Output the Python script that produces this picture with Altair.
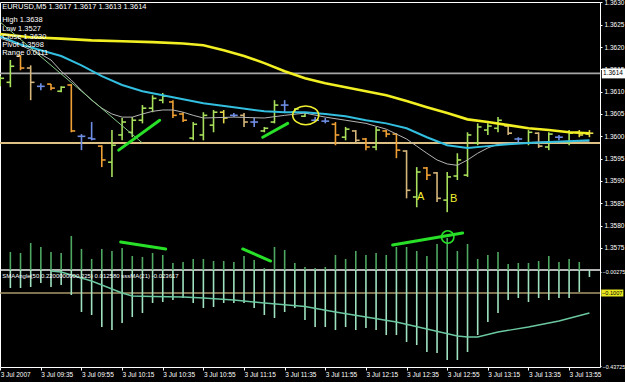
import altair as alt
import pandas as pd

# ---------------- data ----------------
bar_kind = ["g","g","o","t","b","o","g","o","b","b","o","g","g","g","g","g","g","o","o","g",
            "g","g","y","b","t","b","g","g","b","g","g","b","b","o","g","t","o","g","o","o",
            "t","g","o","t","g","g","g","g","g","g","t","b","g","t","g","b","g","y","y"]
bar_high = [1.36135,1.36171,1.36182,1.36159,1.36119,1.36117,1.36112,1.36117,1.36005,1.36032,
            1.35980,1.36014,1.36041,1.36043,1.36070,1.36092,1.36097,1.36081,1.36054,1.36032,
            1.36054,1.36059,1.36059,1.36052,1.36052,1.36041,1.36021,1.36081,1.36081,1.36063,
            1.36054,1.36043,1.36041,1.36032,1.36021,1.36014,1.35996,1.36021,1.36014,1.36007,
            1.35969,1.35931,1.35931,1.35920,1.35920,1.35962,1.36009,1.36029,1.36029,1.36043,
            1.36025,1.35998,1.36014,1.36009,1.36009,1.36003,1.36014,1.36014,1.36014]
bar_low = [1.36112,1.36110,1.36148,1.36081,1.36103,1.36103,1.36099,1.36009,1.35969,1.35991,
           1.35931,1.35909,1.35991,1.35998,1.36029,1.36054,1.36074,1.36041,1.36032,1.35991,
           1.35991,1.36009,1.36029,1.36043,1.36021,1.36021,1.36009,1.36029,1.36052,1.36052,
           1.36043,1.36032,1.36029,1.35980,1.35991,1.35987,1.35969,1.35969,1.35998,1.35951,
           1.35861,1.35841,1.35902,1.35853,1.35830,1.35902,1.35909,1.35980,1.36003,1.36009,
           1.36003,1.35987,1.35980,1.35974,1.35969,1.35991,1.35980,1.35998,1.35998]
bar_open = [1.36117,1.36121,1.36180,1.36153,1.36112,1.36117,1.36101,1.36115,1.36000,1.35996,
            1.35978,1.35942,1.36003,1.36009,1.36036,1.36063,1.36081,1.36077,1.36050,1.35996,
            1.36003,1.36025,1.36054,1.36047,1.36047,1.36032,1.36012,1.36032,1.36070,1.36054,
            1.36045,1.36036,1.36034,1.36027,1.35998,1.36012,1.35994,1.35976,1.36012,1.36005,
            1.35967,1.35864,1.35929,1.35918,1.35857,1.35911,1.35913,1.35985,1.36014,1.36018,
            1.36023,1.35994,1.35985,1.36007,1.35976,1.35998,1.35987,1.36009,1.36005]
bar_close = [1.36130,1.36157,1.36153,1.36121,1.36112,1.36108,1.36110,1.36012,1.36000,1.35994,
             1.35947,1.35980,1.36032,1.36036,1.36063,1.36085,1.36090,1.36047,1.36036,1.36027,
             1.36047,1.36054,1.36041,1.36047,1.36032,1.36032,1.36018,1.36070,1.36070,1.36061,
             1.36052,1.36036,1.36034,1.36003,1.36016,1.35991,1.35976,1.36014,1.36005,1.35969,
             1.35879,1.35920,1.35913,1.35861,1.35909,1.35947,1.36003,1.36021,1.36023,1.36036,
             1.36007,1.35994,1.36009,1.35978,1.36005,1.35998,1.36007,1.36003,1.36007]

ma_yellow_i = [0,3,6,9,12,15,18,20,22,24,26,28,30,32,34,36,38,40,42,44,46,48,50,52,54,56,58]
ma_yellow_v = [1.36229,1.36222,1.36219,1.36215,1.36213,1.36211,1.36208,1.36204,1.36193,1.36180,
               1.36164,1.36146,1.36130,1.36119,1.36110,1.36101,1.36092,1.36079,1.36065,1.36052,
               1.36038,1.36032,1.36025,1.36018,1.36014,1.36009,1.36007]
ma_cyan_i = [0,2,4,6,8,10,12,14,16,18,20,23,26,28,30,32,34,36,38,40,42,44,46,48,50,52,54,56,58]
ma_cyan_v = [1.36224,1.36206,1.36193,1.36180,1.36159,1.36135,1.36115,1.36101,1.36092,1.36083,
             1.36074,1.36065,1.36056,1.36054,1.36054,1.36050,1.36045,1.36036,1.36029,1.36018,
             1.35998,1.35980,1.35974,1.35978,1.35982,1.35985,1.35987,1.35989,1.35991]
ma_gray_i = [0,2,4,5,6,7,8,9,10,11,12,13,14,15,16,17,18,19,20,23,26,28,30,32,34,36,38,39,40,
             41,42,43,44,45,46,47,48,49,50,53,56,58]
ma_gray_v = [1.36220,1.36204,1.36184,1.36171,1.36146,1.36126,1.36103,1.36081,1.36063,1.36050,
             1.36043,1.36043,1.36050,1.36056,1.36059,1.36059,1.36054,1.36047,1.36041,1.36043,
             1.36041,1.36047,1.36052,1.36043,1.36036,1.36029,1.36016,1.36005,1.35994,1.35978,
             1.35962,1.35947,1.35938,1.35935,1.35947,1.35962,1.35974,1.35982,1.35985,1.35987,
             1.35989,1.35989]
trend_i = [0.0, 14.0]
trend_v = [1.36256, 1.35985]

bid_level = 1.36141
pivot_level = 1.35985

# indicator window
hist_i = list(range(1, 59))
hist_top = [0.0883,0.0837,0.1298,0.1114,0.0883,0.0837,0.1621,0.1022,0.0561,0.1022,
            0.0929,0.1068,0.0699,0.0653,0.0837,0.0745,0.0376,0.0422,0.0561,0.0561,
            0.0468,0.0468,0.0422,0.0699,0.0514,0.0146,0.1114,0.0975,0.0376,0.0192,
            0.0146,0.0192,0.0745,0.0561,0.0929,0.0745,0.0837,0.0745,0.1114,0.1114,
            0.0929,0.0699,0.1252,0.1529,0.0929,0.1252,0.0561,0.0745,0.0883,0.0330,
            0.0376,0.0376,0.0468,0.0699,0.0422,0.0561,0.0422,0.0053]
hist_bot = [-0.0776,-0.0776,-0.0730,-0.0546,-0.0730,-0.0638,-0.1099,-0.1883,-0.2021,-0.2574,
            -0.2713,-0.2390,-0.2113,-0.1929,-0.1468,-0.1422,-0.1330,-0.1237,-0.1468,-0.1698,
            -0.1652,-0.1468,-0.1468,-0.1468,-0.1698,-0.2021,-0.2159,-0.1883,-0.1698,-0.2252,
            -0.2574,-0.2574,-0.2713,-0.2574,-0.2713,-0.2620,-0.2713,-0.2943,-0.2943,-0.3266,
            -0.3404,-0.3727,-0.3773,-0.4096,-0.4096,-0.3727,-0.2943,-0.2344,-0.1929,-0.1330,
            -0.1237,-0.1422,-0.1237,-0.1330,-0.1237,-0.1237,-0.0961,-0.0269]
ind_ma_i = [5,6,7,9,10,12,13,15,18,20,23,26,30,33,36,39,42,45,46,47,49,52,55,58]
ind_ma_v = [0.0007,-0.0039,-0.0177,-0.0454,-0.0638,-0.1007,-0.1145,-0.1168,-0.1191,-0.1237,
            -0.1330,-0.1468,-0.1629,-0.1883,-0.2113,-0.2344,-0.2666,-0.2989,-0.3035,-0.3035,
            -0.2805,-0.2574,-0.2298,-0.1929]
ind_sep = 0.0053
ind_level = -0.1007
ind_ticks = [-0.00275, -0.43725]

# hand-drawn annotations
main_seg = {"x0": [11.66, 25.84], "x1": [15.70, 28.30],
            "y0": [1.35969, 1.35998], "y1": [1.36036, 1.36029]}
ind_seg = {"x0": [11.86, 23.87, 38.63], "x1": [16.29, 26.62, 45.52],
           "y0": [0.1344, 0.1022, 0.1206], "y1": [0.1022, 0.0468, 0.1759]}
ellipse_pt = {"i": [30.07], "v": [1.36047]}
circle_pt = {"i": [44.05], "v": [0.1575]}
letters = {"t": ["A", "B"], "i": [41.39, 44.64], "v": [1.35864, 1.35859]}

price_ticks = [1.3575, 1.3580, 1.3585, 1.3590, 1.3595, 1.3600,
               1.3605, 1.3610, 1.3615, 1.3620, 1.3625, 1.3630]
time_ticks = list(range(0, 57, 4))
time_labels = ["3 Jul 2007", "3 Jul 09:35", "3 Jul 09:55", "3 Jul 10:15", "3 Jul 10:35",
               "3 Jul 10:55", "3 Jul 11:15", "3 Jul 11:35", "3 Jul 11:55", "3 Jul 12:15",
               "3 Jul 12:35", "3 Jul 12:55", "3 Jul 13:15", "3 Jul 13:35", "3 Jul 13:55"]

header_line = "EURUSD,M5  1.3617 1.3617 1.3613 1.3614"
header_block = "High 1.3638\nLow 1.3527\nClose 1.3630\nPivot 1.3598\nRange 0.0111"
ind_label = "SMAAngle(50,0.2200000000,225) 0.012580   sssMA(21) -0.023617"

# ---------------- scales / axes ----------------
X_MIN, X_MAX = -0.02, 59.04
FONT = "Liberation Sans"
xs = alt.Scale(domain=[X_MIN, X_MAX], nice=False, zero=False)
ps = alt.Scale(domain=[1.35483, 1.36301], nice=False, zero=False)
vs = alt.Scale(domain=[-0.4418, 1.2408], nice=False, zero=False)

label_expr = "[" + ",".join("'" + t + "'" for t in time_labels) + "][round(datum.value/4)]"
xaxis = alt.Axis(values=time_ticks, labelExpr=label_expr, labelAlign="left", labelColor="white",
                 labelFontSize=6.5, labelFont=FONT, tickColor="white", tickSize=3,
                 labelPadding=1, domain=False, grid=False, title=None,
                 labelOverlap=False, labelBound=False, labelFlush=False)
paxis = alt.Axis(orient="right", values=price_ticks, format=".4f", labelColor="white",
                 labelFontSize=6.5, labelFont=FONT, tickColor="white", tickSize=2,
                 labelPadding=2, domain=False, grid=False, title=None,
                 labelOverlap=False, labelBound=False, labelFlush=False)
vaxis = alt.Axis(orient="right", values=ind_ticks, labelExpr="format(datum.value, '.5f')",
                 labelColor="white", labelFontSize=5.4, labelFont=FONT, tickColor="white",
                 tickSize=1, labelPadding=1, domain=False, grid=False, title=None,
                 labelOverlap=False, labelBound=False, labelFlush=False)


def X(f):
    return alt.X(f + ":Q", scale=xs, axis=xaxis)


def PY(f):
    return alt.Y(f + ":Q", scale=ps, axis=paxis)


def VY(f):
    return alt.Y(f + ":Q", scale=vs, axis=vaxis)


bars = pd.DataFrame({"i": range(len(bar_kind)), "kind": bar_kind, "open": bar_open,
                     "high": bar_high, "low": bar_low, "close": bar_close})
kind_color = alt.Color("kind:N", legend=None,
                       scale=alt.Scale(domain=["g", "o", "t", "b", "y"],
                                       range=["#a8e05c", "#f0a035", "#d6b67a", "#6f8fe6", "#e6d84a"]))

hl = pd.DataFrame({"level": [bid_level, pivot_level], "kind": ["bid", "pivot"]})
hlines = alt.Chart(hl).mark_rule(strokeWidth=1.8).encode(
    y=PY("level"),
    stroke=alt.Stroke("kind:N", legend=None,
                      scale=alt.Scale(domain=["bid", "pivot"], range=["#a6a6a6", "#dcc084"])))

bar_v = alt.Chart(bars).mark_rule(strokeWidth=1.6).encode(
    x=X("i"), y=PY("low"), y2="high", color=kind_color)
bar_o = alt.Chart(bars).transform_calculate(xo="datum.i - 0.38").mark_rule(strokeWidth=1.6).encode(
    x=X("xo"), x2="i", y=PY("open"), color=kind_color)
bar_c = alt.Chart(bars).transform_calculate(xc="datum.i + 0.38").mark_rule(strokeWidth=1.6).encode(
    x=X("i"), x2="xc", y=PY("close"), color=kind_color)


def ma_layer(ii, vv, color, w):
    d = pd.DataFrame({"i": ii, "v": vv})
    return alt.Chart(d).mark_line(color=color, strokeWidth=w).encode(x=X("i"), y=PY("v"))


yellow = ma_layer(ma_yellow_i, ma_yellow_v, "#f2f022", 2.6)
cyan = ma_layer(ma_cyan_i, ma_cyan_v, "#32bfe0", 2.0)
gray = ma_layer(ma_gray_i, ma_gray_v, "#b4b4b4", 1.0)
trend = alt.Chart(pd.DataFrame({"x0": [trend_i[0]], "x1": [trend_i[1]],
                                "y0": [trend_v[0]], "y1": [trend_v[1]]})).mark_rule(
    color="#86c886", strokeWidth=1.0).encode(x=X("x0"), x2="x1", y=PY("y0"), y2="y1")

mseg = alt.Chart(pd.DataFrame(main_seg)).mark_rule(color="#28e028", strokeWidth=3, strokeCap="round").encode(
    x=X("x0"), x2="x1", y=PY("y0"), y2="y1")
ellipse_shape = ("M -1 0 C -1 -0.3977 -0.5523 -0.72 0 -0.72 C 0.5523 -0.72 1 -0.3977 1 0 "
                 "C 1 0.3977 0.5523 0.72 0 0.72 C -0.5523 0.72 -1 0.3977 -1 0 Z")
ell = alt.Chart(pd.DataFrame(ellipse_pt)).mark_point(
    shape=ellipse_shape, size=676, filled=False, stroke="#f0f030", strokeWidth=1.6, opacity=1).encode(
    x=X("i"), y=PY("v"))
lett = alt.Chart(pd.DataFrame(letters)).mark_text(
    color="#f0f030", fontSize=11, font=FONT, align="center", baseline="middle").encode(
    x=X("i"), y=PY("v"), text="t:N")

bid_box = alt.Chart(pd.DataFrame({"level": [bid_level]})).transform_calculate(
    bx0=str(X_MAX + 0.18), bx1=str(X_MAX + 2.6), bxc=str(X_MAX + 0.3),
    lab="format(datum.level, '.4f')")
bid_rect = bid_box.mark_rule(color="white", strokeWidth=10).encode(x=X("bx0"), x2="bx1", y=PY("level"))
bid_text = bid_box.mark_text(color="black", fontSize=6.5, font=FONT, align="left",
                             baseline="middle").encode(x=X("bxc"), y=PY("level"), text="lab:N")

hdr = pd.DataFrame({"i": [0], "top": [price_ticks[-1]], "h": [header_line], "b": [header_block]})
hdr1 = alt.Chart(hdr).mark_text(color="white", fontSize=7.5, font=FONT, align="left",
                                baseline="top", dx=2, dy=1).encode(x=X("i"), y=PY("top"), text="h:N")
hdr2 = alt.Chart(hdr).mark_text(color="white", fontSize=7.5, font=FONT, align="left",
                                baseline="top", dx=2, dy=14, lineBreak="\n", lineHeight=8.1).encode(
    x=X("i"), y=PY("top"), text="b:N")

price_layer = alt.layer(hlines, bar_v, bar_o, bar_c, gray, cyan, yellow, trend, mseg, ell, lett,
                        bid_rect, bid_text, hdr1, hdr2)

# indicator layers
hist = pd.DataFrame({"i": hist_i, "top": hist_top, "bot": hist_bot, "sep": ind_sep})
h_up = alt.Chart(hist).mark_rule(color="#4fa862", strokeWidth=1.6).encode(x=X("i"), y=VY("top"), y2="sep")
h_dn = alt.Chart(hist).mark_rule(color="#9fe2bf", strokeWidth=1.6).encode(x=X("i"), y=VY("sep"), y2="bot")
lv = pd.DataFrame({"level": [ind_sep, ind_level], "kind": ["sep", "lvl"]})
sep_line = alt.Chart(lv[lv.kind == "sep"]).mark_rule(color="#f0f0f0", strokeWidth=1.4).encode(y=VY("level"))
lvl_line = alt.Chart(lv[lv.kind == "lvl"]).mark_rule(color="#a8986a", strokeWidth=1.4).encode(y=VY("level"))
ind_ma = alt.Chart(pd.DataFrame({"i": ind_ma_i, "v": ind_ma_v})).mark_line(
    color="#6cc8a0", strokeWidth=1.4).encode(x=X("i"), y=VY("v"))
iseg = alt.Chart(pd.DataFrame(ind_seg)).mark_rule(color="#28e028", strokeWidth=3, strokeCap="round").encode(
    x=X("x0"), x2="x1", y=VY("y0"), y2="y1")
circ = alt.Chart(pd.DataFrame(circle_pt)).mark_point(
    shape="circle", size=154, filled=False, stroke="#28e028", strokeWidth=1.6, opacity=1).encode(
    x=X("i"), y=VY("v"))
ilab = alt.Chart(pd.DataFrame({"i": [0], "v": [ind_sep], "t": [ind_label]})).mark_text(
    color="white", fontSize=6, font=FONT, align="left", baseline="top", dx=2, dy=3).encode(
    x=X("i"), y=VY("v"), text="t:N")
lvl_box = alt.Chart(pd.DataFrame({"level": [ind_level]})).transform_calculate(
    bx0=str(X_MAX + 0.12), bx1=str(X_MAX + 2.3), bxc=str(X_MAX + 0.2),
    lab="format(datum.level, '.4f')")
lvl_rect = lvl_box.mark_rule(color="#e8e822", strokeWidth=7).encode(x=X("bx0"), x2="bx1", y=VY("level"))
lvl_text = lvl_box.mark_text(color="black", fontSize=5.6, font=FONT, align="left",
                             baseline="middle").encode(x=X("bxc"), y=VY("level"), text="lab:N")

ind_layer = alt.layer(lvl_line, sep_line, h_up, h_dn, ind_ma, iseg, circ, ilab, lvl_rect, lvl_text)

chart = alt.layer(price_layer, ind_layer).resolve_scale(y="independent").properties(
    width=600, height=365, background="black",
    padding={"left": 0, "top": 2, "right": 25, "bottom": 15},
    autosize=alt.AutoSizeParams(type="none"),
).configure_view(stroke="white", strokeWidth=1, fill="black")

chart.save("out.html", embed_options={"renderer": "svg", "actions": False})
